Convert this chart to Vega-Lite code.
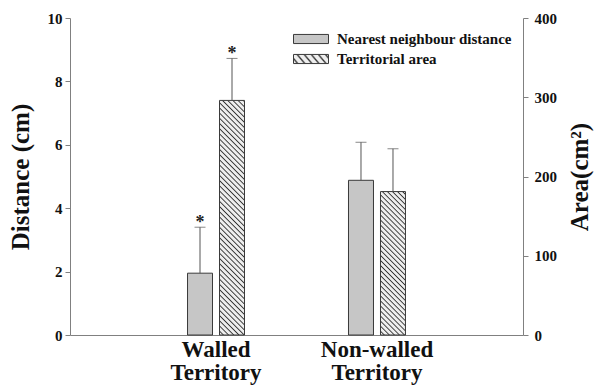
{
  "$schema": "https://vega.github.io/schema/vega-lite/v6.json",
  "width": 453,
  "height": 317,
  "autosize": "none",
  "padding": {"left": 70, "top": 18, "right": 79, "bottom": 53},
  "background": "white",
  "data": {
    "values": [
      {"territory": "Walled Territory", "measure": "Nearest neighbour distance", "dist": 1.95, "dist_hi": 3.4, "sig": "*"},
      {"territory": "Walled Territory", "measure": "Territorial area", "area": 296, "area_hi": 349, "sig": "*"},
      {"territory": "Non-walled Territory", "measure": "Nearest neighbour distance", "dist": 4.88, "dist_hi": 6.08, "sig": ""},
      {"territory": "Non-walled Territory", "measure": "Territorial area", "area": 181, "area_hi": 235, "sig": ""}
    ]
  },
  "encoding": {
    "x": {
      "field": "territory",
      "type": "nominal",
      "scale": {"domain": ["Walled Territory", "Non-walled Territory"], "paddingInner": 0.646, "paddingOuter": 0.73},
      "axis": {"title": null, "labelAngle": 0, "ticks": false, "tickSize": 0, "labelPadding": 3, "labelFontSize": 23, "labelLineHeight": 23, "labelExpr": "split(datum.label, ' ')", "domainColor": "#808080"}
    },
    "xOffset": {
      "field": "measure",
      "type": "nominal",
      "scale": {"domain": ["Nearest neighbour distance", "Territorial area"], "paddingInner": 0.219, "paddingOuter": 0}
    }
  },
  "layer": [
    {
      "transform": [{"filter": "datum.measure === 'Nearest neighbour distance'"}],
      "layer": [
        {
          "mark": {"type": "bar", "fill": "#c6c6c6", "strokeWidth": 1},
          "encoding": {
            "y": {"field": "dist", "type": "quantitative", "scale": {"domain": [0, 10]},
              "axis": {"orient": "left", "title": "Distance (cm)", "values": [0, 2, 4, 6, 8, 10]}},
            "stroke": {
              "field": "measure", "type": "nominal",
              "scale": {"domain": ["Nearest neighbour distance"], "range": ["#3a3a3a"]},
              "legend": {
                "orient": "none", "legendX": 223, "legendY": 3, "title": null,
                "symbolType": "M-1,-0.26H1V0.26H-1Z", "symbolSize": 1225,
                "symbolStrokeWidth": 1, "symbolOpacity": 1,
                "labelFontSize": 15, "labelFontWeight": "bold", "labelColor": "#111", "labelOffset": 8, "labelLimit": 0
              }
            }
          }
        },
        {
          "mark": {"type": "rule", "color": "#555", "strokeWidth": 1},
          "encoding": {
            "y": {"field": "dist", "type": "quantitative", "scale": {"domain": [0, 10]},
              "axis": {"orient": "left", "title": "Distance (cm)", "values": [0, 2, 4, 6, 8, 10]}},
            "y2": {"field": "dist_hi"}
          }
        },
        {
          "mark": {"type": "tick", "color": "#555", "size": 11, "thickness": 1},
          "encoding": {
            "y": {"field": "dist_hi", "type": "quantitative", "scale": {"domain": [0, 10]},
              "axis": {"orient": "left", "title": "Distance (cm)", "values": [0, 2, 4, 6, 8, 10]}}
          }
        },
        {
          "mark": {"type": "text", "fontSize": 18, "fontWeight": "bold", "color": "#222", "baseline": "alphabetic", "dy": 1},
          "encoding": {
            "y": {"field": "dist_hi", "type": "quantitative", "scale": {"domain": [0, 10]},
              "axis": {"orient": "left", "title": "Distance (cm)", "values": [0, 2, 4, 6, 8, 10]}},
            "text": {"field": "sig"}
          }
        }
      ]
    },
    {
      "transform": [{"filter": "datum.measure === 'Territorial area'"}],
      "layer": [
        {
          "mark": {"type": "bar", "strokeWidth": 1},
          "encoding": {
            "y": {"field": "area", "type": "quantitative", "scale": {"domain": [0, 400]},
              "axis": {"orient": "right", "title": "Area(cm²)", "values": [0, 100, 200, 300, 400]}},
            "fill": {
              "condition": [
                {"test": "!datum.territory", "value": {
                  "gradient": "linear", "x1": 0, "y1": 1, "x2": 1.18, "y2": 0.693,
                  "stops": [
                    {"offset": 0, "color": "#eee"}, {"offset": 0.05, "color": "#eee"}, {"offset": 0.075, "color": "#333"},
                    {"offset": 0.1, "color": "#eee"}, {"offset": 0.15, "color": "#eee"}, {"offset": 0.175, "color": "#333"},
                    {"offset": 0.2, "color": "#eee"}, {"offset": 0.25, "color": "#eee"}, {"offset": 0.275, "color": "#333"},
                    {"offset": 0.3, "color": "#eee"}, {"offset": 0.35, "color": "#eee"}, {"offset": 0.375, "color": "#333"},
                    {"offset": 0.4, "color": "#eee"}, {"offset": 0.45, "color": "#eee"}, {"offset": 0.475, "color": "#333"},
                    {"offset": 0.5, "color": "#eee"}, {"offset": 0.55, "color": "#eee"}, {"offset": 0.575, "color": "#333"},
                    {"offset": 0.6, "color": "#eee"}, {"offset": 0.65, "color": "#eee"}, {"offset": 0.675, "color": "#333"},
                    {"offset": 0.7, "color": "#eee"}, {"offset": 0.75, "color": "#eee"}, {"offset": 0.775, "color": "#333"},
                    {"offset": 0.8, "color": "#eee"}, {"offset": 0.85, "color": "#eee"}, {"offset": 0.875, "color": "#333"},
                    {"offset": 0.9, "color": "#eee"}, {"offset": 0.95, "color": "#eee"}, {"offset": 0.975, "color": "#333"},
                    {"offset": 1, "color": "#eee"}
                  ]}},
                {"test": "datum.territory === 'Walled Territory'", "value": {
                  "gradient": "linear", "x1": 0, "y1": 1, "x2": 0.1166, "y2": -0.0942,
                  "stops": [
                    {"offset": 0, "color": "#eee"}, {"offset": 0.01, "color": "#eee"}, {"offset": 0.015, "color": "#333"},
                    {"offset": 0.02, "color": "#eee"}, {"offset": 0.03, "color": "#eee"}, {"offset": 0.035, "color": "#333"},
                    {"offset": 0.04, "color": "#eee"}, {"offset": 0.05, "color": "#eee"}, {"offset": 0.055, "color": "#333"},
                    {"offset": 0.06, "color": "#eee"}, {"offset": 0.07, "color": "#eee"}, {"offset": 0.075, "color": "#333"},
                    {"offset": 0.08, "color": "#eee"}, {"offset": 0.09, "color": "#eee"}, {"offset": 0.095, "color": "#333"},
                    {"offset": 0.1, "color": "#eee"}, {"offset": 0.11, "color": "#eee"}, {"offset": 0.115, "color": "#333"},
                    {"offset": 0.12, "color": "#eee"}, {"offset": 0.13, "color": "#eee"}, {"offset": 0.135, "color": "#333"},
                    {"offset": 0.14, "color": "#eee"}, {"offset": 0.15, "color": "#eee"}, {"offset": 0.155, "color": "#333"},
                    {"offset": 0.16, "color": "#eee"}, {"offset": 0.17, "color": "#eee"}, {"offset": 0.175, "color": "#333"},
                    {"offset": 0.18, "color": "#eee"}, {"offset": 0.19, "color": "#eee"}, {"offset": 0.195, "color": "#333"},
                    {"offset": 0.2, "color": "#eee"}, {"offset": 0.21, "color": "#eee"}, {"offset": 0.215, "color": "#333"},
                    {"offset": 0.22, "color": "#eee"}, {"offset": 0.23, "color": "#eee"}, {"offset": 0.235, "color": "#333"},
                    {"offset": 0.24, "color": "#eee"}, {"offset": 0.25, "color": "#eee"}, {"offset": 0.255, "color": "#333"},
                    {"offset": 0.26, "color": "#eee"}, {"offset": 0.27, "color": "#eee"}, {"offset": 0.275, "color": "#333"},
                    {"offset": 0.28, "color": "#eee"}, {"offset": 0.29, "color": "#eee"}, {"offset": 0.295, "color": "#333"},
                    {"offset": 0.3, "color": "#eee"}, {"offset": 0.31, "color": "#eee"}, {"offset": 0.315, "color": "#333"},
                    {"offset": 0.32, "color": "#eee"}, {"offset": 0.33, "color": "#eee"}, {"offset": 0.335, "color": "#333"},
                    {"offset": 0.34, "color": "#eee"}, {"offset": 0.35, "color": "#eee"}, {"offset": 0.355, "color": "#333"},
                    {"offset": 0.36, "color": "#eee"}, {"offset": 0.37, "color": "#eee"}, {"offset": 0.375, "color": "#333"},
                    {"offset": 0.38, "color": "#eee"}, {"offset": 0.39, "color": "#eee"}, {"offset": 0.395, "color": "#333"},
                    {"offset": 0.4, "color": "#eee"}, {"offset": 0.41, "color": "#eee"}, {"offset": 0.415, "color": "#333"},
                    {"offset": 0.42, "color": "#eee"}, {"offset": 0.43, "color": "#eee"}, {"offset": 0.435, "color": "#333"},
                    {"offset": 0.44, "color": "#eee"}, {"offset": 0.45, "color": "#eee"}, {"offset": 0.455, "color": "#333"},
                    {"offset": 0.46, "color": "#eee"}, {"offset": 0.47, "color": "#eee"}, {"offset": 0.475, "color": "#333"},
                    {"offset": 0.48, "color": "#eee"}, {"offset": 0.49, "color": "#eee"}, {"offset": 0.495, "color": "#333"},
                    {"offset": 0.5, "color": "#eee"}, {"offset": 0.51, "color": "#eee"}, {"offset": 0.515, "color": "#333"},
                    {"offset": 0.52, "color": "#eee"}, {"offset": 0.53, "color": "#eee"}, {"offset": 0.535, "color": "#333"},
                    {"offset": 0.54, "color": "#eee"}, {"offset": 0.55, "color": "#eee"}, {"offset": 0.555, "color": "#333"},
                    {"offset": 0.56, "color": "#eee"}, {"offset": 0.57, "color": "#eee"}, {"offset": 0.575, "color": "#333"},
                    {"offset": 0.58, "color": "#eee"}, {"offset": 0.59, "color": "#eee"}, {"offset": 0.595, "color": "#333"},
                    {"offset": 0.6, "color": "#eee"}, {"offset": 0.61, "color": "#eee"}, {"offset": 0.615, "color": "#333"},
                    {"offset": 0.62, "color": "#eee"}, {"offset": 0.63, "color": "#eee"}, {"offset": 0.635, "color": "#333"},
                    {"offset": 0.64, "color": "#eee"}, {"offset": 0.65, "color": "#eee"}, {"offset": 0.655, "color": "#333"},
                    {"offset": 0.66, "color": "#eee"}, {"offset": 0.67, "color": "#eee"}, {"offset": 0.675, "color": "#333"},
                    {"offset": 0.68, "color": "#eee"}, {"offset": 0.69, "color": "#eee"}, {"offset": 0.695, "color": "#333"},
                    {"offset": 0.7, "color": "#eee"}, {"offset": 0.71, "color": "#eee"}, {"offset": 0.715, "color": "#333"},
                    {"offset": 0.72, "color": "#eee"}, {"offset": 0.73, "color": "#eee"}, {"offset": 0.735, "color": "#333"},
                    {"offset": 0.74, "color": "#eee"}, {"offset": 0.75, "color": "#eee"}, {"offset": 0.755, "color": "#333"},
                    {"offset": 0.76, "color": "#eee"}, {"offset": 0.77, "color": "#eee"}, {"offset": 0.775, "color": "#333"},
                    {"offset": 0.78, "color": "#eee"}, {"offset": 0.79, "color": "#eee"}, {"offset": 0.795, "color": "#333"},
                    {"offset": 0.8, "color": "#eee"}, {"offset": 0.81, "color": "#eee"}, {"offset": 0.815, "color": "#333"},
                    {"offset": 0.82, "color": "#eee"}, {"offset": 0.83, "color": "#eee"}, {"offset": 0.835, "color": "#333"},
                    {"offset": 0.84, "color": "#eee"}, {"offset": 0.85, "color": "#eee"}, {"offset": 0.855, "color": "#333"},
                    {"offset": 0.86, "color": "#eee"}, {"offset": 0.87, "color": "#eee"}, {"offset": 0.875, "color": "#333"},
                    {"offset": 0.88, "color": "#eee"}, {"offset": 0.89, "color": "#eee"}, {"offset": 0.895, "color": "#333"},
                    {"offset": 0.9, "color": "#eee"}, {"offset": 0.91, "color": "#eee"}, {"offset": 0.915, "color": "#333"},
                    {"offset": 0.92, "color": "#eee"}, {"offset": 0.93, "color": "#eee"}, {"offset": 0.935, "color": "#333"},
                    {"offset": 0.94, "color": "#eee"}, {"offset": 0.95, "color": "#eee"}, {"offset": 0.955, "color": "#333"},
                    {"offset": 0.96, "color": "#eee"}, {"offset": 0.97, "color": "#eee"}, {"offset": 0.975, "color": "#333"},
                    {"offset": 0.98, "color": "#eee"}, {"offset": 0.99, "color": "#eee"}, {"offset": 0.995, "color": "#333"},
                    {"offset": 1, "color": "#eee"}
                  ]}}
              ],
              "value": {
                "gradient": "linear", "x1": 0, "y1": 1, "x2": 0.1987, "y2": -0.1397,
                "stops": [
                  {"offset": 0, "color": "#eee"}, {"offset": 0.015, "color": "#eee"}, {"offset": 0.0225, "color": "#333"},
                  {"offset": 0.03, "color": "#eee"}, {"offset": 0.045, "color": "#eee"}, {"offset": 0.0525, "color": "#333"},
                  {"offset": 0.06, "color": "#eee"}, {"offset": 0.075, "color": "#eee"}, {"offset": 0.0825, "color": "#333"},
                  {"offset": 0.09, "color": "#eee"}, {"offset": 0.105, "color": "#eee"}, {"offset": 0.1125, "color": "#333"},
                  {"offset": 0.12, "color": "#eee"}, {"offset": 0.135, "color": "#eee"}, {"offset": 0.1425, "color": "#333"},
                  {"offset": 0.15, "color": "#eee"}, {"offset": 0.165, "color": "#eee"}, {"offset": 0.1725, "color": "#333"},
                  {"offset": 0.18, "color": "#eee"}, {"offset": 0.195, "color": "#eee"}, {"offset": 0.2025, "color": "#333"},
                  {"offset": 0.21, "color": "#eee"}, {"offset": 0.225, "color": "#eee"}, {"offset": 0.2325, "color": "#333"},
                  {"offset": 0.24, "color": "#eee"}, {"offset": 0.255, "color": "#eee"}, {"offset": 0.2625, "color": "#333"},
                  {"offset": 0.27, "color": "#eee"}, {"offset": 0.285, "color": "#eee"}, {"offset": 0.2925, "color": "#333"},
                  {"offset": 0.3, "color": "#eee"}, {"offset": 0.315, "color": "#eee"}, {"offset": 0.3225, "color": "#333"},
                  {"offset": 0.33, "color": "#eee"}, {"offset": 0.345, "color": "#eee"}, {"offset": 0.3525, "color": "#333"},
                  {"offset": 0.36, "color": "#eee"}, {"offset": 0.375, "color": "#eee"}, {"offset": 0.3825, "color": "#333"},
                  {"offset": 0.39, "color": "#eee"}, {"offset": 0.405, "color": "#eee"}, {"offset": 0.4125, "color": "#333"},
                  {"offset": 0.42, "color": "#eee"}, {"offset": 0.435, "color": "#eee"}, {"offset": 0.4425, "color": "#333"},
                  {"offset": 0.45, "color": "#eee"}, {"offset": 0.465, "color": "#eee"}, {"offset": 0.4725, "color": "#333"},
                  {"offset": 0.48, "color": "#eee"}, {"offset": 0.495, "color": "#eee"}, {"offset": 0.5025, "color": "#333"},
                  {"offset": 0.51, "color": "#eee"}, {"offset": 0.525, "color": "#eee"}, {"offset": 0.5325, "color": "#333"},
                  {"offset": 0.54, "color": "#eee"}, {"offset": 0.555, "color": "#eee"}, {"offset": 0.5625, "color": "#333"},
                  {"offset": 0.57, "color": "#eee"}, {"offset": 0.585, "color": "#eee"}, {"offset": 0.5925, "color": "#333"},
                  {"offset": 0.6, "color": "#eee"}, {"offset": 0.615, "color": "#eee"}, {"offset": 0.6225, "color": "#333"},
                  {"offset": 0.63, "color": "#eee"}, {"offset": 0.645, "color": "#eee"}, {"offset": 0.6525, "color": "#333"},
                  {"offset": 0.66, "color": "#eee"}, {"offset": 0.675, "color": "#eee"}, {"offset": 0.6825, "color": "#333"},
                  {"offset": 0.69, "color": "#eee"}, {"offset": 0.705, "color": "#eee"}, {"offset": 0.7125, "color": "#333"},
                  {"offset": 0.72, "color": "#eee"}, {"offset": 0.735, "color": "#eee"}, {"offset": 0.7425, "color": "#333"},
                  {"offset": 0.75, "color": "#eee"}, {"offset": 0.765, "color": "#eee"}, {"offset": 0.7725, "color": "#333"},
                  {"offset": 0.78, "color": "#eee"}, {"offset": 0.795, "color": "#eee"}, {"offset": 0.8025, "color": "#333"},
                  {"offset": 0.81, "color": "#eee"}, {"offset": 0.825, "color": "#eee"}, {"offset": 0.8325, "color": "#333"},
                  {"offset": 0.84, "color": "#eee"}, {"offset": 0.855, "color": "#eee"}, {"offset": 0.8625, "color": "#333"},
                  {"offset": 0.87, "color": "#eee"}, {"offset": 0.885, "color": "#eee"}, {"offset": 0.8925, "color": "#333"},
                  {"offset": 0.9, "color": "#eee"}, {"offset": 0.915, "color": "#eee"}, {"offset": 0.9225, "color": "#333"},
                  {"offset": 0.93, "color": "#eee"}, {"offset": 0.945, "color": "#eee"}, {"offset": 0.9525, "color": "#333"},
                  {"offset": 0.96, "color": "#eee"}, {"offset": 0.975, "color": "#eee"}, {"offset": 0.9825, "color": "#333"},
                  {"offset": 0.99, "color": "#eee"}, {"offset": 1, "color": "#eee"}
                ]
              }
            },
            "stroke": {
              "field": "measure", "type": "nominal",
              "scale": {"domain": ["Territorial area"], "range": ["#3a3a3a"]},
              "legend": {
                "orient": "none", "legendX": 223, "legendY": 23, "title": null,
                "symbolType": "M-1,-0.26H1V0.26H-1Z", "symbolSize": 1225,
                "symbolStrokeWidth": 1, "symbolOpacity": 1,
                "labelFontSize": 15, "labelFontWeight": "bold", "labelColor": "#111", "labelOffset": 8, "labelLimit": 0
              }
            }
          }
        },
        {
          "mark": {"type": "rule", "color": "#555", "strokeWidth": 1},
          "encoding": {
            "y": {"field": "area", "type": "quantitative", "scale": {"domain": [0, 400]},
              "axis": {"orient": "right", "title": "Area(cm²)", "values": [0, 100, 200, 300, 400]}},
            "y2": {"field": "area_hi"}
          }
        },
        {
          "mark": {"type": "tick", "color": "#555", "size": 11, "thickness": 1},
          "encoding": {
            "y": {"field": "area_hi", "type": "quantitative", "scale": {"domain": [0, 400]},
              "axis": {"orient": "right", "title": "Area(cm²)", "values": [0, 100, 200, 300, 400]}}
          }
        },
        {
          "mark": {"type": "text", "fontSize": 18, "fontWeight": "bold", "color": "#222", "baseline": "alphabetic", "dy": 1},
          "encoding": {
            "y": {"field": "area_hi", "type": "quantitative", "scale": {"domain": [0, 400]},
              "axis": {"orient": "right", "title": "Area(cm²)", "values": [0, 100, 200, 300, 400]}},
            "text": {"field": "sig"}
          }
        }
      ]
    }
  ],
  "resolve": {
    "scale": {"y": "independent", "stroke": "independent"},
    "axis": {"y": "independent"},
    "legend": {"stroke": "independent"}
  },
  "config": {
    "font": "Liberation Serif",
    "view": {"stroke": null},
    "axis": {
      "grid": false,
      "domainColor": "#808080",
      "tickColor": "#808080",
      "labelColor": "#111",
      "labelFontWeight": "bold",
      "titleColor": "#111",
      "titleFontWeight": "bold",
      "titleFontSize": 25
    },
    "axisLeft": {"tickSize": 5, "labelPadding": 3, "labelFontSize": 15, "titlePadding": 14},
    "axisRight": {"tickSize": 5, "labelPadding": 6, "labelFontSize": 15, "titlePadding": 36, "titleAngle": -90}
  }
}
